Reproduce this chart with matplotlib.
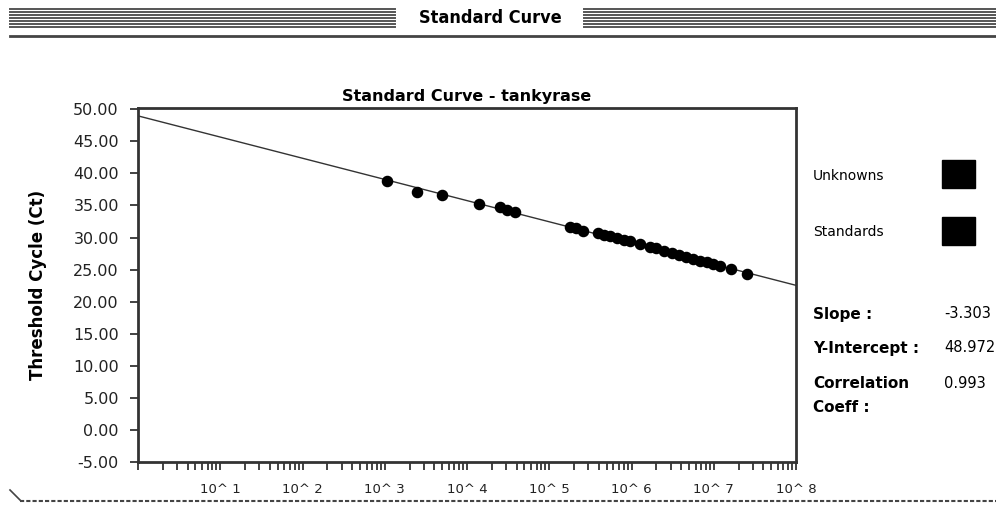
import matplotlib
matplotlib.use("Agg")
import matplotlib.pyplot as plt
import matplotlib.ticker as mticker
from matplotlib.lines import Line2D
import numpy as np

# standards: log10(starting quantity) and threshold cycle
log_qty = [3.03, 3.39, 3.70, 4.15, 4.40, 4.49, 4.58,
           5.25, 5.33, 5.41, 5.59, 5.67, 5.74, 5.82, 5.91, 5.98,
           6.10, 6.23, 6.30, 6.40, 6.49, 6.58, 6.66, 6.75, 6.83,
           6.92, 6.99, 7.08, 7.21, 7.40]
ct = [38.79, 37.07, 36.60, 35.20, 34.74, 34.27, 33.96,
      31.62, 31.46, 31.00, 30.69, 30.37, 30.22, 29.91, 29.60, 29.44,
      28.97, 28.50, 28.35, 27.88, 27.57, 27.26, 26.95, 26.64, 26.32,
      26.17, 25.86, 25.55, 25.08, 24.30]

slope = -3.303
intercept = 48.972
corr = 0.993

y_ticks = [-5, 0, 5, 10, 15, 20, 25, 30, 35, 40, 45, 50]
decades = [0, 1, 2, 3, 4, 5, 6, 7, 8]

W, H = 996, 505
fig = plt.figure(figsize=(W / 100, H / 100), dpi=100)
fig.patch.set_facecolor("white")

def fx(px):
    return px / W

def fy(py):
    return 1 - py / H

ax = fig.add_axes([fx(138), fy(462), fx(796) - fx(138), fy(108) - fy(462)])

qty = 10 ** np.array(log_qty)
xs = np.logspace(0, 8, 50)
ax.plot(xs, intercept + slope * np.log10(xs), color="#333333", lw=1.0, zorder=2)
ax.plot(qty, ct, "o", color="black", ms=7.3, zorder=3)

ax.set_xscale("log")
ax.set_xlim(1, 1e8)
ax.set_ylim(-5, 50.2)

ax.xaxis.set_major_locator(mticker.FixedLocator([10.0 ** d for d in decades]))
ax.xaxis.set_major_formatter(mticker.FixedFormatter([""] + ["10^ %d" % d for d in decades[1:]]))
ax.xaxis.set_minor_locator(mticker.LogLocator(base=10, subs=np.arange(2, 10), numticks=20))
ax.xaxis.set_minor_formatter(mticker.NullFormatter())
ax.set_yticks(y_ticks)
ax.yaxis.set_major_formatter(mticker.FormatStrFormatter("%.2f"))

ax.tick_params(axis="both", which="both", direction="out", length=5.8, width=1.2,
               color="#222222", labelcolor="#222222")
ax.tick_params(axis="x", which="major", pad=9, labelsize=9.5)
ax.tick_params(axis="y", pad=8, labelsize=11.5)

for s in ax.spines.values():
    s.set_linewidth(2)
    s.set_color("#333333")

ax.set_title("Standard Curve - tankyrase", fontsize=11.5, fontweight="bold", pad=5)
ax.set_ylabel("Threshold Cycle (Ct)", fontsize=12, fontweight="bold")
ax.yaxis.set_label_coords(-0.138, 0.5)

# window header
fig.text(fx(490), fy(18), "Standard Curve", ha="center", va="center",
         fontsize=13, fontweight="bold", fontstretch="condensed")
for i in range(7):
    yy = fy(9 + i * 3)
    fig.add_artist(Line2D([fx(10), fx(395)], [yy, yy], color="#555555", lw=1.4))
    fig.add_artist(Line2D([fx(584), fx(996)], [yy, yy], color="#555555", lw=1.4))
fig.add_artist(Line2D([fx(10), fx(996)], [fy(36), fy(36)], color="#444444", lw=2))

# bottom edge
fig.add_artist(Line2D([fx(20), fx(996)], [fy(501), fy(501)], color="#444444", lw=1.5, ls=(0, (2, 1))))
fig.add_artist(Line2D([fx(10), fx(20)], [fy(490), fy(500)], color="#444444", lw=1.2))

# legend and fit statistics
fig.text(fx(813), fy(176), "Unknowns", ha="left", va="center", fontsize=10)
fig.text(fx(813), fy(232), "Standards", ha="left", va="center", fontsize=10)
for yc in (174, 231):
    fig.add_artist(plt.Rectangle((fx(942), fy(yc + 14)), fx(33), fy(0) - fy(28),
                                 color="black", transform=fig.transFigure))

fig.text(fx(813), fy(314), "Slope :", ha="left", va="center", fontsize=11, fontweight="bold")
fig.text(fx(813), fy(348), "Y-Intercept :", ha="left", va="center", fontsize=11, fontweight="bold")
fig.text(fx(813), fy(384), "Correlation", ha="left", va="center", fontsize=11, fontweight="bold")
fig.text(fx(813), fy(407), "Coeff :", ha="left", va="center", fontsize=11, fontweight="bold")
fig.text(fx(944), fy(314), "%.3f" % slope, ha="left", va="center", fontsize=10.5)
fig.text(fx(944), fy(348), "%.3f" % intercept, ha="left", va="center", fontsize=10.5)
fig.text(fx(944), fy(384), "%.3f" % corr, ha="left", va="center", fontsize=10.5)

fig.savefig("out.png", dpi=100)
